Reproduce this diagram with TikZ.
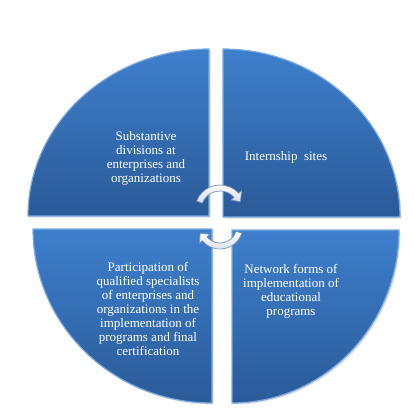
\documentclass[tikz,border=0pt]{standalone}
\usepackage{fontspec}
\setmainfont{Liberation Serif}
\usetikzlibrary{shadows}
\definecolor{qtop}{RGB}{62,127,204}
\definecolor{qbot}{RGB}{42,90,152}
\definecolor{qrim}{RGB}{125,170,226}
\definecolor{arrfill}{RGB}{214,222,232}
\definecolor{arredge}{RGB}{120,146,178}
\begin{document}
\begin{tikzpicture}[x=1bp,y=-1bp,
  quad/.style={top color=qtop,bottom color=qbot,draw=qrim,line width=1.2bp,
    drop shadow={shadow xshift=1.5bp,shadow yshift=-1.5bp,opacity=0.25}},
  lbl/.style={text=white,align=center,font=\fontsize{13bp}{14bp}\selectfont,inner sep=0pt},
  carrow/.style={top color=white,bottom color=arrfill,draw=arredge,line width=0.7bp}]
\useasboundingbox (0,0) rectangle (414,418);
% quadrants
\path[quad] (209,216) -- (28,216) arc[start angle=180,end angle=270,x radius=181,y radius=167] -- cycle;
\path[quad] (223,217) -- (223,49) arc[start angle=270,end angle=360,x radius=177,y radius=168] -- cycle;
\path[quad] (212,229) -- (212,403) arc[start angle=90,end angle=180,x radius=179,y radius=174] -- cycle;
\path[quad] (232,230) -- (399,230) arc[start angle=0,end angle=90,x radius=167,y radius=173] -- cycle;
% circular arrows
\coordinate (c1) at (220,210);
\coordinate (c2) at (220,226);
\path[carrow] ([shift={(201:25)}]c1) arc[start angle=201,end angle=318,radius=25]
  -- ([shift={(318:29)}]c1) -- ([shift={(338:22)}]c1) -- ([shift={(318:15)}]c1)
  -- ([shift={(318:19)}]c1) arc[start angle=318,end angle=201,radius=19] -- cycle;
\path[carrow] ([shift={(18:23)}]c2) arc[start angle=18,end angle=140,radius=23]
  -- ([shift={(140:27)}]c2) -- ([shift={(160:21)}]c2) -- ([shift={(140:13)}]c2)
  -- ([shift={(140:17)}]c2) arc[start angle=140,end angle=18,radius=17] -- cycle;
% labels
\node[lbl] (tl) at (146,158) {Substantive\\divisions at\\enterprises and\\organizations};
\node[lbl] (tr) at (286,157) {Internship~ sites};
\node[lbl] (br) at (291,291) {Network forms of\\implementation of\\educational\\programs};
\node[lbl] (bl) at (148,309) {Participation of\\qualified specialists\\of enterprises and\\organizations in the\\implementation of\\programs and final\\certification};
\end{tikzpicture}
\end{document}
